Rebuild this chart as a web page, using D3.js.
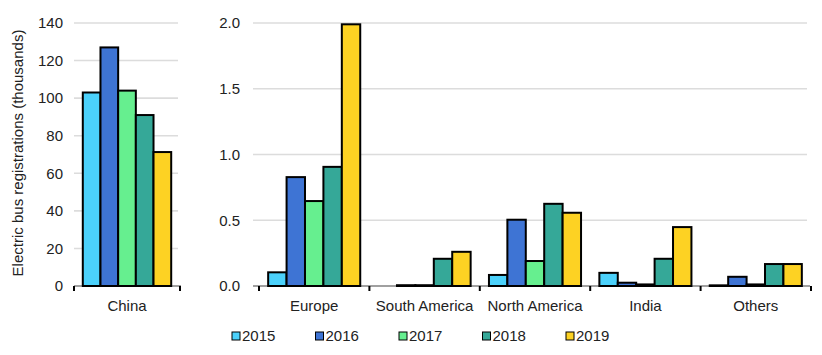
<!DOCTYPE html>
<html><head><meta charset="utf-8">
<script src="https://cdn.jsdelivr.net/npm/d3@7/dist/d3.min.js"></script>
<style>
body{margin:0;background:#fff;}
svg text{font-family:"Liberation Sans",Arial,sans-serif;}
</style>
</head><body>
<svg id="chart" width="822" height="355"></svg>
<script>
const years = ["2015","2016","2017","2018","2019"];
const colors = ["#4bd1fb","#3e74d4","#66ef8f","#35a898","#fdd223"];
const chinaCats = ["China"];
const chinaValues = [[103,127,104,91,71.3]];
const regionCats = ["Europe","South America","North America","India","Others"];
const europe = [0.104,0.828,0.646,0.906,1.99];
const southAmerica = [null,0.006,0.006,0.207,0.26];
const northAmerica = [0.084,0.504,0.19,0.625,0.557];
const india = [0.1,0.025,0.012,0.207,0.448];
const others = [0.005,0.07,0.012,0.167,0.167];
const regionValues = [europe,southAmerica,northAmerica,india,others];
const leftTicks = [0,20,40,60,80,100,120,140];
const rightTicks = [0,0.5,1.0,1.5,2.0];
const yTitle = "Electric bus registrations (thousands)";

const svg = d3.select("#chart");
const y0 = 286, yTop = 23;
const FS = 15;

function panel(cats, values, xr, gridX, yMax, ticks, tickFmt, labelX){
  const x = d3.scaleBand().domain(cats).range(xr).padding(0);
  const y = d3.scaleLinear().domain([0,yMax]).range([y0,yTop]);
  const pad = x.bandwidth()*0.083;
  const x1 = d3.scaleBand().domain(years).range([pad, x.bandwidth()-pad]).padding(0);
  const g = svg.append("g");
  g.selectAll("line.grid").data(ticks.filter(t=>t>0)).join("line")
    .attr("x1",gridX[0]).attr("x2",gridX[1])
    .attr("y1",d=>y(d)).attr("y2",d=>y(d))
    .attr("stroke","#dcdcdc").attr("stroke-width",1.6);
  g.selectAll("text.tl").data(ticks).join("text")
    .attr("x",labelX).attr("y",d=>y(d)).attr("dy","0.35em")
    .attr("text-anchor","end").attr("font-size",FS).attr("fill","#222")
    .text(tickFmt);
  g.append("line").attr("x1",gridX[0]).attr("x2",gridX[1]+3)
    .attr("y1",y0).attr("y2",y0).attr("stroke","#808080").attr("stroke-width",1.6);
  cats.forEach((c,ci)=>{
    const data = values[ci].map((v,i)=>({v,i})).filter(d=>d.v!==null);
    g.selectAll(null).data(data).join("rect")
      .attr("x",d=>x(c)+x1(years[d.i]))
      .attr("y",d=>y(d.v))
      .attr("width",x1.bandwidth())
      .attr("height",d=>y0-y(d.v))
      .attr("fill",d=>colors[d.i])
      .attr("stroke","#000").attr("stroke-width",2);
  });
  const bounds = cats.map(c=>x(c)).concat([x(cats[cats.length-1])+x.bandwidth()]);
  g.selectAll(null).data(bounds).join("line")
    .attr("x1",d=>d).attr("x2",d=>d).attr("y1",y0).attr("y2",y0+5)
    .attr("stroke","#000").attr("stroke-width",2);
  g.selectAll(null).data(cats).join("text")
    .attr("x",d=>x(d)+x.bandwidth()/2).attr("y",306).attr("dy","0.35em")
    .attr("text-anchor","middle").attr("font-size",FS).attr("fill","#222")
    .text(d=>d);
}

panel(chinaCats, chinaValues, [74,180], [74,178], 140, leftTicks, d=>d3.format("d")(d), 63);
panel(regionCats, regionValues, [259,811], [253,807], 2, rightTicks, d=>d3.format(".1f")(d), 240);

svg.append("text").attr("transform","translate(23,153) rotate(-90)")
  .attr("text-anchor","middle").attr("font-size",FS).attr("fill","#222").text(yTitle);

const legX = d3.scalePoint().domain(years).range([232,566]);
const lg = svg.append("g").selectAll("g").data(years).join("g")
  .attr("transform",d=>`translate(${legX(d)},336)`);
lg.append("rect").attr("x",0).attr("y",-4).attr("width",8).attr("height",8)
  .attr("fill",(d,i)=>colors[i]).attr("stroke","#000").attr("stroke-width",1);
lg.append("text").attr("x",10).attr("y",0).attr("dy","0.35em")
  .attr("font-size",FS).attr("fill","#222").text(d=>d);
</script>
</body></html>
